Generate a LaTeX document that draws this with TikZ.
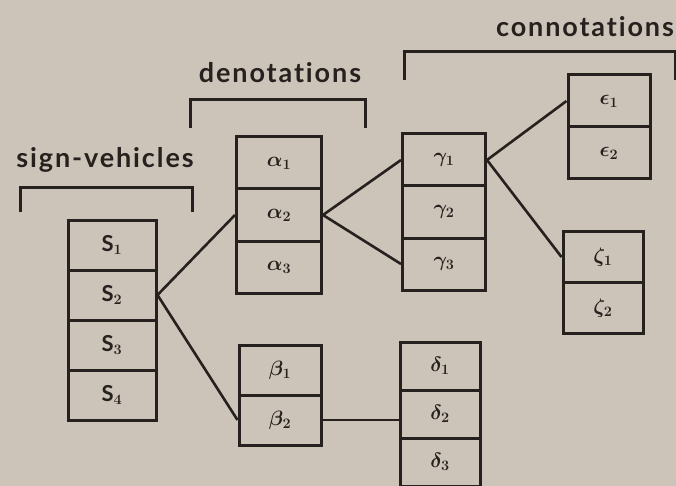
\documentclass[tikz,border=0pt]{standalone}
\usepackage{fontspec}
\usepackage{bm}
\setsansfont{Lato}[Ligatures={NoCommon,NoRare,NoDiscretionary}]
\definecolor{bgc}{RGB}{204,196,184}
\definecolor{ink}{RGB}{38,33,30}
\begin{document}
\begin{tikzpicture}[x=1pt,y=-1pt,
  cell/.style={draw=ink,line width=3pt,minimum width=#1,minimum height=51pt,inner sep=0pt,
    font=\fontsize{22}{24}\selectfont\sffamily\bfseries,text=ink},
  cell/.default=84pt,
  link/.style={draw=ink,line width=2.6pt},
  brk/.style={draw=ink,line width=3pt},
  ttl/.style={font=\fontsize{27}{30}\selectfont\sffamily\bfseries\addfontfeature{LetterSpace=7},text=ink,inner sep=0pt}]
\fill[bgc] (0,0) rectangle (676,486);
\useasboundingbox (0,0) rectangle (676,486);
% sign-vehicles
\node[ttl] (tsv) at (105,160) {sign-vehicles};
\draw[brk] (20,212) -- (20,188) -- (192,188) -- (192,212);
\node[cell=88pt,minimum height=50pt] (s1) at (112,245) {S$_{\bm 1}$};
\node[cell=88pt,minimum height=50pt] (s2) at (112,295) {S$_{\bm 2}$};
\node[cell=88pt,minimum height=50pt] (s3) at (112,345) {S$_{\bm 3}$};
\node[cell=88pt,minimum height=50pt] (s4) at (112,395) {S$_{\bm 4}$};
% denotations
\node[ttl] (tden) at (280,73) {denotations};
\draw[brk] (190,128) -- (190,100) -- (365,100) -- (365,128);
\node[cell=85pt,minimum height=52pt] (a1) at (279,163) {$\bm{\alpha_1}$};
\node[cell=85pt,minimum height=52pt] (a2) at (279,215) {$\bm{\alpha_2}$};
\node[cell=85pt,minimum height=52pt] (a3) at (279,267) {$\bm{\alpha_3}$};
\node[cell=82pt,minimum height=50pt] (b1) at (280,370) {$\bm{\beta_1}$};
\node[cell=82pt,minimum height=50pt] (b2) at (280,420) {$\bm{\beta_2}$};
% connotations
\node[ttl] (tcon) at (585,27) {connotations};
\draw[brk] (404,80) -- (404,52) -- (675,52) -- (675,80);
\node[cell=83pt,minimum height=52pt] (g1) at (444,160) {$\bm{\gamma_1}$};
\node[cell=83pt,minimum height=52pt] (g2) at (444,212) {$\bm{\gamma_2}$};
\node[cell=83pt,minimum height=52pt] (g3) at (444,264) {$\bm{\gamma_3}$};
\node[cell=80pt,minimum height=48pt] (d1) at (440,366) {$\bm{\delta_1}$};
\node[cell=80pt,minimum height=48pt] (d2) at (440,414) {$\bm{\delta_2}$};
\node[cell=80pt,minimum height=48pt] (d3) at (440,462) {$\bm{\delta_3}$};
\node[cell=82pt,minimum height=52pt] (e1) at (609,101) {$\bm{\epsilon_1}$};
\node[cell=82pt,minimum height=52pt] (e2) at (609,153) {$\bm{\epsilon_2}$};
\node[cell=80pt,minimum height=51pt] (z1) at (603,257) {$\bm{\zeta_1}$};
\node[cell=80pt,minimum height=51pt] (z2) at (603,308) {$\bm{\zeta_2}$};
% connectors
\draw[link] (s2.east) -- (a2.west);
\draw[link] (s2.east) -- (b2.west);
\draw[link] (a2.east) -- (g1.west);
\draw[link] (a2.east) -- (g3.west);
\draw[link] (g1.east) -- (e1.west);
\draw[link] (g1.east) -- (z1.west);
\draw[link] (b2.east) -- (b2.east -| d2.west);
\end{tikzpicture}
\end{document}
